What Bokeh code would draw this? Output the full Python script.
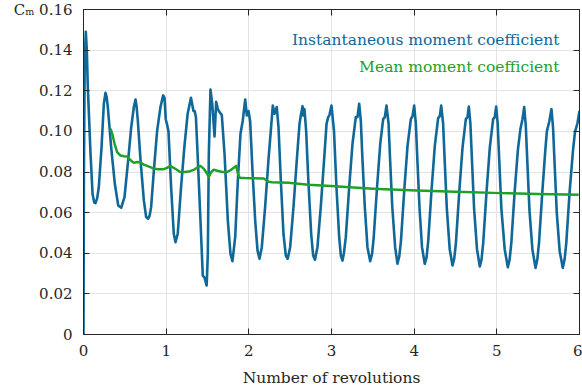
from bokeh.plotting import figure
from bokeh.models import (Range1d, LinearAxis, FixedTicker, CustomJSTickFormatter,
                          Label, ColumnDataSource)
from bokeh.embed import file_html
from bokeh.resources import INLINE

# Instantaneous moment coefficient vs. number of revolutions
inst_rev = [
    0.000, 0.005, 0.015, 0.028, 0.040, 0.052, 0.085, 0.110, 0.130, 0.145,
    0.165, 0.185, 0.218, 0.246, 0.266, 0.280, 0.294, 0.335, 0.379, 0.420,
    0.456, 0.496, 0.540, 0.577, 0.609, 0.629, 0.640, 0.657, 0.690, 0.730,
    0.758, 0.782, 0.800, 0.818, 0.851, 0.891, 0.931, 0.964, 0.980, 0.995,
    1.010, 1.028, 1.060, 1.092, 1.113, 1.140, 1.180, 1.220, 1.260, 1.300,
    1.330, 1.345, 1.360, 1.380, 1.415, 1.443, 1.464, 1.490, 1.504, 1.516,
    1.536, 1.557, 1.585, 1.605, 1.625, 1.645, 1.673, 1.706, 1.746, 1.778,
    1.802, 1.835, 1.867, 1.899, 1.927, 1.956, 1.976, 1.996, 2.016, 2.044,
    2.077, 2.105, 2.129,
    2.157, 2.197, 2.237, 2.266, 2.290, 2.310, 2.338, 2.359, 2.387, 2.419,
    2.447, 2.470,
    2.500, 2.540, 2.580, 2.613, 2.629, 2.650, 2.660, 2.673, 2.693, 2.720,
    2.754, 2.778, 2.800,
    2.830, 2.870, 2.910, 2.940, 2.960, 2.975, 3.000, 3.030, 3.060, 3.093,
    3.113, 3.133,
    3.150, 3.173, 3.214, 3.254, 3.294, 3.314, 3.335, 3.355, 3.375, 3.403,
    3.435, 3.468,
    3.490, 3.510, 3.550, 3.590, 3.625, 3.645, 3.665, 3.690, 3.710, 3.735,
    3.770, 3.798,
    3.820, 3.840, 3.880, 3.920, 3.960, 3.980, 4.000, 4.020, 4.040, 4.065,
    4.095, 4.128,
    4.150, 4.170, 4.210, 4.250, 4.290, 4.310, 4.327, 4.350, 4.370, 4.395,
    4.430, 4.464,
    4.485, 4.505, 4.545, 4.585, 4.625, 4.645, 4.661, 4.680, 4.700, 4.725,
    4.760, 4.794,
    4.815, 4.835, 4.875, 4.915, 4.955, 4.975, 4.992, 5.010, 5.030, 5.055,
    5.095, 5.133,
    5.155, 5.175, 5.215, 5.255, 5.285, 5.310, 5.331, 5.350, 5.370, 5.395,
    5.430, 5.468,
    5.490, 5.510, 5.550, 5.585, 5.605, 5.635, 5.661, 5.680, 5.700, 5.725,
    5.760, 5.798,
    5.820, 5.840, 5.880, 5.920, 5.945, 5.975, 6.000,
]
inst_cm = [
    0.0000, 0.0800, 0.1350, 0.1490, 0.1400, 0.1220, 0.0890, 0.0690, 0.0650, 0.0647,
    0.0670, 0.0725, 0.0920, 0.1136, 0.1190, 0.1170, 0.1120, 0.0920, 0.0742, 0.0635,
    0.0624, 0.0676, 0.0857, 0.1020, 0.1120, 0.1157, 0.1130, 0.1054, 0.0857, 0.0660,
    0.0578, 0.0570, 0.0585, 0.0627, 0.0807, 0.1004, 0.1120, 0.1177, 0.1165, 0.1060,
    0.1035, 0.1000, 0.0725, 0.0496, 0.0454, 0.0496, 0.0725, 0.0922, 0.1087, 0.1165,
    0.1100, 0.1100, 0.1070, 0.0890, 0.0561, 0.0290, 0.0280, 0.0241, 0.0397, 0.0890,
    0.1206, 0.1136, 0.0975, 0.1145, 0.1110, 0.1095, 0.1080, 0.0890, 0.0561, 0.0397,
    0.0361, 0.0479, 0.0758, 0.0988, 0.1054, 0.1157, 0.1078, 0.1100, 0.1050, 0.0807,
    0.0561, 0.0414, 0.0373,
    0.0430, 0.0627, 0.0857, 0.1004, 0.1127, 0.1087, 0.1120, 0.1020, 0.0758, 0.0496,
    0.0389, 0.0373,
    0.0430, 0.0627, 0.0857, 0.1037, 0.1078, 0.1124, 0.1078, 0.1110, 0.1004, 0.0758,
    0.0496, 0.0389, 0.0368,
    0.0430, 0.0627, 0.0857, 0.1037, 0.1070, 0.1080, 0.1127, 0.1004, 0.0725, 0.0479,
    0.0389, 0.0364,
    0.0400, 0.0479, 0.0725, 0.0939, 0.1070, 0.1070, 0.1136, 0.1050, 0.0857, 0.0627,
    0.0430, 0.0361,
    0.0395, 0.0475, 0.0720, 0.0940, 0.1060, 0.1070, 0.1127, 0.1040, 0.0850, 0.0630,
    0.0430, 0.0348,
    0.0385, 0.0460, 0.0710, 0.0930, 0.1060, 0.1075, 0.1127, 0.1040, 0.0850, 0.0620,
    0.0430, 0.0348,
    0.0380, 0.0460, 0.0710, 0.0930, 0.1065, 0.1075, 0.1127, 0.1040, 0.0850, 0.0620,
    0.0420, 0.0340,
    0.0375, 0.0450, 0.0700, 0.0920, 0.1060, 0.1070, 0.1122, 0.1040, 0.0850, 0.0620,
    0.0420, 0.0335,
    0.0370, 0.0450, 0.0700, 0.0920, 0.1060, 0.1070, 0.1122, 0.1040, 0.0850, 0.0620,
    0.0420, 0.0331,
    0.0370, 0.0450, 0.0700, 0.0910, 0.1010, 0.1060, 0.1120, 0.1030, 0.0840, 0.0610,
    0.0420, 0.0328,
    0.0370, 0.0450, 0.0700, 0.0900, 0.1000, 0.1050, 0.1110, 0.1020, 0.0830, 0.0600,
    0.0410, 0.0328,
    0.0370, 0.0450, 0.0700, 0.0900, 0.0996, 0.1040, 0.1100,
]

# Running mean of the moment coefficient
mean_rev = [
    0.327, 0.350, 0.375, 0.407, 0.448, 0.490, 0.530, 0.570, 0.609, 0.650,
    0.690, 0.730, 0.770, 0.830, 0.890, 0.970, 1.010, 1.050, 1.110, 1.170,
    1.230, 1.290, 1.340, 1.375, 1.415, 1.450, 1.490, 1.516, 1.545, 1.576,
    1.620, 1.680, 1.738, 1.790, 1.846, 1.870, 1.890, 1.950, 2.050, 2.180,
    2.240, 2.280, 2.480, 2.720, 2.990, 3.500, 4.030, 4.500, 5.050, 5.500,
    5.990,
]
mean_cm = [
    0.1013, 0.0985, 0.0940, 0.0898, 0.0881, 0.0878, 0.0876, 0.0858, 0.0845, 0.0849,
    0.0848, 0.0836, 0.0830, 0.0820, 0.0814, 0.0814, 0.0820, 0.0830, 0.0816, 0.0800,
    0.0800, 0.0804, 0.0812, 0.0822, 0.0830, 0.0818, 0.0795, 0.0775, 0.0800, 0.0811,
    0.0806, 0.0800, 0.0800, 0.0812, 0.0830, 0.0790, 0.0772, 0.0770, 0.0769, 0.0768,
    0.0752, 0.0750, 0.0747, 0.0737, 0.0731, 0.0718, 0.0709, 0.0703, 0.0696, 0.0692,
    0.0688,
]

x_ticks = [0, 1, 2, 3, 4, 5, 6]
y_ticks = [0, 0.02, 0.04, 0.06, 0.08, 0.10, 0.12, 0.14, 0.16]
y_tick_labels = ["0", "0.02", "0.04", "0.06", "0.08", "0.10", "0.12", "0.14",
                 "C\u2098 0.16"]

BLUE = "#0f6898"
GREEN = "#1da12b"
INK = "#262626"
FONT = "DejaVu Serif"

p = figure(width=582, height=392, output_backend="svg", toolbar_location=None,
           x_range=Range1d(0, 6), y_range=Range1d(0, 0.16),
           x_axis_location=None, y_axis_location=None,
           min_border_left=83, min_border_right=3, min_border_top=9,
           min_border_bottom=58)
p.background_fill_color = "white"
p.border_fill_color = "white"
p.outline_line_color = INK
p.outline_line_width = 1

blank = CustomJSTickFormatter(code="return ''")


def style_axis(ax, labelled):
    ax.axis_line_color = INK
    ax.axis_line_width = 1
    ax.major_tick_line_color = INK
    ax.major_tick_in = 6
    ax.major_tick_out = 0
    ax.minor_tick_line_color = None
    ax.major_label_text_font = FONT
    ax.major_label_text_font_size = "15px"
    ax.major_label_text_color = INK
    if not labelled:
        ax.formatter = blank
        ax.major_label_standoff = 0


xb = LinearAxis(ticker=FixedTicker(ticks=x_ticks), axis_label="Number of revolutions")
style_axis(xb, True)
xb.major_label_standoff = 10
xb.axis_label_text_font = FONT
xb.axis_label_text_font_size = "15.5px"
xb.axis_label_text_font_style = "normal"
xb.axis_label_text_color = INK
xb.axis_label_standoff = 10
p.add_layout(xb, "below")

yl = LinearAxis(ticker=FixedTicker(ticks=y_ticks))
style_axis(yl, True)
yl.major_label_standoff = 11
yl.major_label_overrides = {t: s for t, s in zip(y_ticks, y_tick_labels)}
p.add_layout(yl, "left")

xt = LinearAxis(ticker=FixedTicker(ticks=x_ticks))
style_axis(xt, False)
p.add_layout(xt, "above")

yr = LinearAxis(ticker=FixedTicker(ticks=y_ticks))
style_axis(yr, False)
p.add_layout(yr, "right")

p.xgrid.ticker = FixedTicker(ticks=x_ticks)
p.ygrid.ticker = FixedTicker(ticks=y_ticks)
for g in (p.xgrid[0], p.ygrid[0]):
    g.grid_line_color = "#e3e3e3"
    g.grid_line_width = 1

inst_src = ColumnDataSource(data=dict(rev=inst_rev, cm=inst_cm))
mean_src = ColumnDataSource(data=dict(rev=mean_rev, cm=mean_cm))

p.line("rev", "cm", source=inst_src, line_color=BLUE, line_width=2.6,
       line_join="round")
p.line("rev", "cm", source=mean_src, line_color=GREEN, line_width=2.5,
       line_join="round")

# In-plot legend entries, right-aligned near the top of the frame
p.add_layout(Label(x=5.758, y=0.1448, text="Instantaneous moment coefficient",
                   text_align="right", text_baseline="alphabetic",
                   text_font=FONT, text_font_size="15.5px", text_color=BLUE))
p.add_layout(Label(x=5.758, y=0.1316, text="Mean moment coefficient",
                   text_align="right", text_baseline="alphabetic",
                   text_font=FONT, text_font_size="15.5px", text_color=GREEN))

open("out.html", "w").write(file_html(p, INLINE))
